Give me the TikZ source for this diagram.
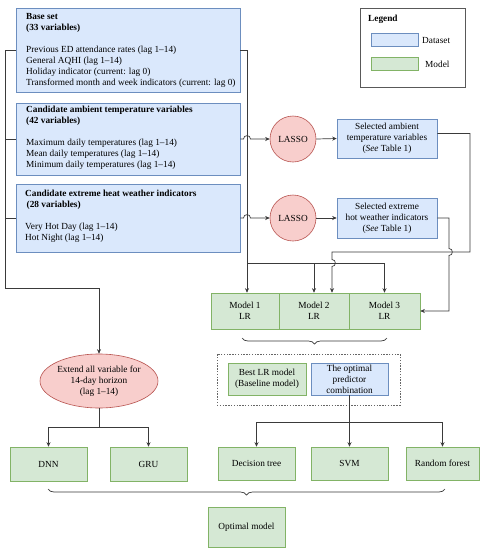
\documentclass[tikz,border=0pt]{standalone}
\usepackage{fontspec}
\setmainfont{Liberation Serif}
\usetikzlibrary{arrows.meta,decorations.pathreplacing,shapes.geometric}
\definecolor{bfill}{HTML}{DAE8FC}
\definecolor{bdraw}{HTML}{6C8EBF}
\definecolor{gfill}{HTML}{D5E8D4}
\definecolor{gdraw}{HTML}{82B366}
\definecolor{rfill}{HTML}{F8CECC}
\definecolor{rdraw}{HTML}{B85450}
\definecolor{lcol}{HTML}{3A3A3A}
\begin{document}
\begin{tikzpicture}[x=1pt,y=-1pt,
  font=\fontsize{9.3}{11}\selectfont,
  dbox/.style={draw=bdraw,fill=bfill,line width=0.6pt,inner sep=0pt,align=center},
  mbox/.style={draw=gdraw,fill=gfill,line width=0.6pt,inner sep=0pt,align=center},
  rnode/.style={draw=rdraw,fill=rfill,line width=0.6pt,inner sep=0pt,align=center},
  txt/.style={anchor=north west,align=left,inner sep=0pt},
  conn/.style={draw=lcol,line width=0.7pt},
  arr/.style={conn,-{Stealth[length=4.5pt,width=4pt]}},
  brc/.style={conn,decorate,decoration={brace,mirror,amplitude=6pt}}
]
\useasboundingbox (0,0) rectangle (488,550);
\fill[white] (0,0) rectangle (488,550);

% left column data boxes
\node[dbox,minimum width=224,minimum height=84] (base) at (128,50) {};
\node[txt] (basetxt) at (26,13) {\textbf{Base set}\\\textbf{(33 variables)}\\[11pt]Previous ED attendance rates (lag 1--14)\\General AQHI (lag 1--14)\\Holiday indicator (current: lag 0)\\Transformed month and week indicators (current: lag 0)};
\node[dbox,minimum width=224,minimum height=72] (amb) at (128,139) {};
\node[txt] (ambtxt) at (26,106) {\textbf{Candidate ambient temperature variables}\\\textbf{(42 variables)}\\[11pt]Maximum daily temperatures (lag 1--14)\\Mean daily temperatures (lag 1--14)\\Minimum daily temperatures (lag 1--14)};
\node[dbox,minimum width=224,minimum height=68] (extr) at (128,218) {};
\node[txt] (extrtxt) at (25,190) {\textbf{Candidate extreme heat weather indicators}\\\hspace{1.5pt}\textbf{(28 variables)}\\[11pt]Very Hot Day (lag 1--14)\\Hot Night (lag 1--14)};

% legend
\node[draw=black!65,fill=white,line width=0.6pt,minimum width=105,minimum height=79,inner sep=0pt] (leg) at (412.5,47.5) {};
\node[anchor=base west,inner sep=0pt] (legt) at (368,21.5) {\textbf{Legend}};
\node[dbox,minimum width=47,minimum height=13] (legd) at (394.5,39.5) {};
\node[anchor=base west,inner sep=0pt] (legdt) at (422,43) {Dataset};
\node[mbox,minimum width=47,minimum height=13] (legm) at (394.5,63.5) {};
\node[anchor=base west,inner sep=0pt] (legmt) at (425,67) {Model};

% LASSO and selected
\node[rnode,circle,minimum size=46] (la1) at (293,139) {LASSO};
\node[rnode,circle,minimum size=46] (la2) at (293,218) {LASSO};
\node[dbox,minimum width=100,minimum height=39] (selA) at (387,138.5) {Selected ambient\\temperature variables\\(\textit{See} Table 1)};
\node[dbox,minimum width=100,minimum height=40] (selE) at (387,218) {Selected extreme\\hot weather indicators\\(\textit{See} Table 1)};

% models
\node[mbox,minimum width=68,minimum height=36] (m1) at (245,311) {Model 1\\LR};
\node[mbox,minimum width=70,minimum height=36] (m2) at (314,311) {Model 2\\LR};
\node[mbox,minimum width=71,minimum height=36] (m3) at (384.5,311) {Model 3\\LR};

% group
\node[draw=black!60,line width=0.7pt,dash pattern=on 1.4pt off 1.4pt,minimum width=183,minimum height=51,inner sep=0pt] (grp) at (308.5,379.5) {};
\node[mbox,minimum width=78,minimum height=32] (best) at (267,379) {Best LR model\\(Baseline model)};
\node[dbox,minimum width=77,minimum height=32] (opt) at (349.5,379) {The optimal\\predictor\\combination};

% ellipse
\node[rnode,ellipse,minimum width=118,minimum height=54] (ext) at (99,381) {Extend all variable for\\14-day horizon\\(lag 1--14)};

% bottom row
\node[mbox,minimum width=77,minimum height=34] (dnn) at (48.5,464) {DNN};
\node[mbox,minimum width=77,minimum height=34] (gru) at (148.5,464) {GRU};
\node[mbox,minimum width=77,minimum height=33] (dt) at (256.5,463.5) {Decision tree};
\node[mbox,minimum width=77,minimum height=33] (svm) at (349.5,463.5) {SVM};
\node[mbox,minimum width=73,minimum height=33] (rf) at (442.5,463.5) {Random forest};
\node[mbox,minimum width=77,minimum height=40] (optm) at (246.5,527) {Optimal model};

% coordinates
\coordinate (lx) at (5,0);
\coordinate (rx) at (247,0);
\coordinate (hb) at (247,263);
\coordinate (lb) at (99,288);
\coordinate (eb) at (99,427);
\coordinate (ob) at (349.5,422);

% left trunk
\draw[arr] (base.west) -- (base.west -| lx) -- (lx |- lb) -- (lb) -- (ext.north);
\draw[conn] (amb.west) -- (amb.west -| lx);
\draw[conn] (extr.west) -- (extr.west -| lx);

% right trunk
\draw[arr] (base.east) -- (base.east -| rx) -- (m1.north -| rx);
\draw[arr] (hb) -| (m2.north);
\draw[arr] (m2.north |- hb) -| (m3.north);

% to LASSO with jumps
\draw[arr] (amb.east) -- (243.5,139) .. controls (243.5,134.5) and (250.5,134.5) .. (250.5,139) -- (la1.west);
\draw[arr] (extr.east) -- (243.5,218) .. controls (243.5,213.5) and (250.5,213.5) .. (250.5,218) -- (la2.west);
\draw[arr] (la1.east) -- (selA.west);
\draw[arr] (la2.east) -- (selE.west);

% selected ambient to model 2
\draw[arr] ([yshift=5pt]selA.east) -- (470,133.5) -- (470,252) -- (332,252) -- (332,259.5) .. controls (336.5,259.5) and (336.5,266.5) .. (332,266.5) -- (m2.north -| 332,0);
% selected extreme to model 3
\draw[arr] (selE.east) -- (449,218) -- (449,248.5) .. controls (453.5,248.5) and (453.5,255.5) .. (449,255.5) -- (449,311) -- (m3.east);

% brace under models
\draw[brc] (242,338) -- (387,338);

% optimal predictor to row
\draw[conn] (opt.south) -- (ob);
\draw[arr] (ob) -- (svm.north);
\draw[arr] (ob) -| (dt.north);
\draw[arr] (ob) -| (rf.north);

% ellipse to DNN/GRU
\draw[conn] (ext.south) -- (eb);
\draw[arr] (eb) -| (dnn.north);
\draw[arr] (eb) -| (gru.north);

% bottom brace
\draw[brc] (48,489) -- (445,489);
\end{tikzpicture}
\end{document}
